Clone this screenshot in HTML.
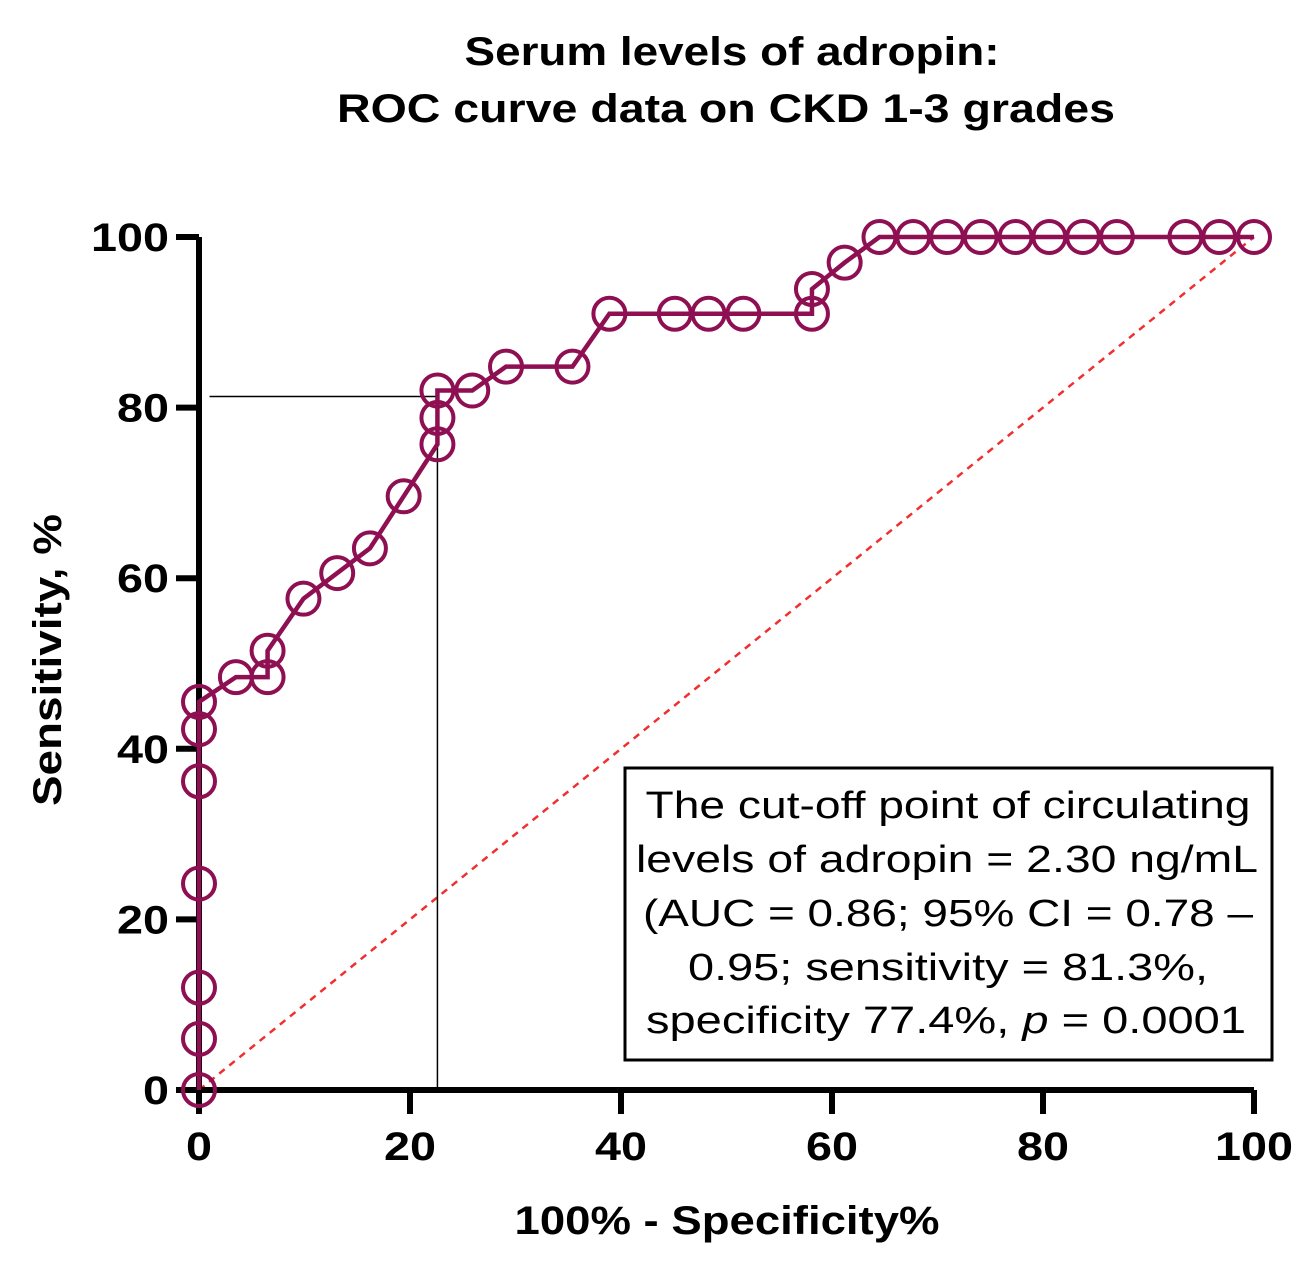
<!DOCTYPE html>
<html><head><meta charset="utf-8"><style>
body{margin:0;background:#fff;width:1314px;height:1257px;overflow:hidden;font-family:"Liberation Sans",Arial,sans-serif}
</style></head><body>
<svg id="chart" width="1314" height="1257" xmlns="http://www.w3.org/2000/svg" font-family="Liberation Sans, Arial, sans-serif">
<text x="732" y="65" font-size="40" font-weight="bold" text-anchor="middle" textLength="535" lengthAdjust="spacingAndGlyphs">Serum levels of adropin:</text>
<text x="726" y="122" font-size="40" font-weight="bold" text-anchor="middle" textLength="778" lengthAdjust="spacingAndGlyphs">ROC curve data on CKD 1-3 grades</text>
<text transform="translate(61,660) rotate(-90)" font-size="40" font-weight="bold" text-anchor="middle" textLength="292" lengthAdjust="spacingAndGlyphs">Sensitivity, %</text>
<text x="727" y="1234" font-size="40" font-weight="bold" text-anchor="middle" textLength="425" lengthAdjust="spacingAndGlyphs">100% - Specificity%</text>
<g id="plot"></g>
<g>
<rect x="625" y="768" width="647" height="292" fill="#fff" stroke="#000" stroke-width="3"/>
<g font-size="38" text-anchor="middle">
<text x="948" y="818" textLength="605" lengthAdjust="spacingAndGlyphs">The cut-off point of circulating</text>
<text x="947" y="872" textLength="622" lengthAdjust="spacingAndGlyphs">levels of adropin = 2.30 ng/mL</text>
<text x="948" y="926" textLength="610" lengthAdjust="spacingAndGlyphs">(AUC = 0.86; 95% CI = 0.78 –</text>
<text x="948" y="980" textLength="520" lengthAdjust="spacingAndGlyphs">0.95; sensitivity = 81.3%,</text>
<text x="946" y="1033" textLength="600" lengthAdjust="spacingAndGlyphs">specificity 77.4%, <tspan font-style="italic">p</tspan> = 0.0001</text>
</g></g>
</svg>
<script>
const xVals=[0,0,0,0,0,0,0,3.5,6.5,6.5,9.9,13.1,16.2,19.4,22.6,22.6,22.6,25.9,29.1,35.4,38.9,45.1,48.3,51.6,58.1,58.1,61.2,64.5,67.7,70.9,74.1,77.4,80.6,83.8,87,93.5,96.7,100];
const yVals=[0,6,12,24.2,36.2,42.3,45.5,48.4,48.4,51.5,57.6,60.6,63.5,69.6,75.7,78.8,82,82,84.8,84.8,91,91,91,91,91,93.9,97,100,100,100,100,100,100,100,100,100,100,100];
const xTicks=[0,20,40,60,80,100];
const yTicks=[0,20,40,60,80,100];
const cutSens=81.3, cutFpr=22.6;
const NS="http://www.w3.org/2000/svg";
const X=v=>199+v*10.55, Y=v=>1090-v*8.53;
const g=document.getElementById('plot');
function mk(t,a){const e=document.createElementNS(NS,t);for(const k in a)e.setAttribute(k,a[k]);g.appendChild(e);return e;}
let e=mk('line',{x1:X(0),y1:Y(0),x2:X(100),y2:Y(100),stroke:'#f03030','stroke-width':2.5,'stroke-dasharray':'7,6'});


e=mk('polyline',{points:`${X(1)},${Y(cutSens)} ${X(cutFpr)},${Y(cutSens)} ${X(cutFpr)},${Y(0)}`,fill:'none',stroke:'#000','stroke-width':1.5});


e=mk('line',{x1:X(0),y1:Y(100),x2:X(0),y2:Y(0)+3,stroke:'#000','stroke-width':6});


e=mk('line',{x1:X(0)-3,y1:Y(0),x2:X(100),y2:Y(0),stroke:'#000','stroke-width':6});


yTicks.forEach(v=>{
 let t=mk('line',{x1:X(0)-23,y1:Y(v),x2:X(0),y2:Y(v),stroke:'#000','stroke-width':6});
 
 
 let s=String(v);
 let l=mk('text',{x:X(0)-30,y:Y(v)+14,'font-size':40,'font-weight':'bold','text-anchor':'end',textLength:s.length*26,lengthAdjust:'spacingAndGlyphs'});l.textContent=s;
 
 
});
xTicks.forEach(v=>{
 let t=mk('line',{x1:X(v),y1:Y(0),x2:X(v),y2:Y(0)+24,stroke:'#000','stroke-width':6});
 
 
 let s=String(v);
 let l=mk('text',{x:X(v),y:Y(0)+70,'font-size':40,'font-weight':'bold','text-anchor':'middle',textLength:s.length*26,lengthAdjust:'spacingAndGlyphs'});l.textContent=s;
 
 
});
e=mk('polyline',{points:xVals.map((v,i)=>X(v)+','+Y(yVals[i])).join(' '),fill:'none',stroke:'#8e0f52','stroke-width':4.5});


xVals.forEach((v,i)=>{
 let c=mk('circle',{cx:X(v),cy:Y(yVals[i]),r:16,fill:'none',stroke:'#8e0f52','stroke-width':4});
 
 
});
</script>
</body></html>
